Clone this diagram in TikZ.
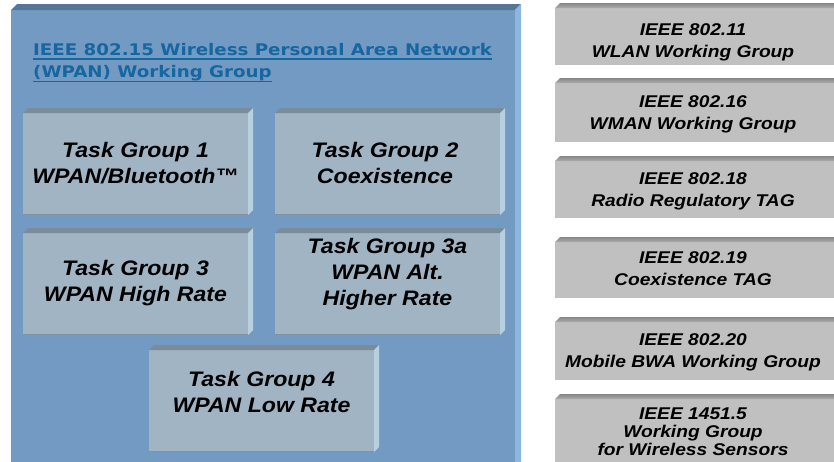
\documentclass[tikz,border=0pt]{standalone}
\usepackage{fontspec}
\newfontfamily\hvfont[FakeStretch=1.1]{Liberation Sans}
\newfontfamily\hvwfont[FakeStretch=1.13]{Liberation Sans}
\newfontfamily\vdfont[FakeStretch=1.14]{DejaVu Sans}
\definecolor{panelface}{RGB}{115,154,195}
\definecolor{paneltop}{RGB}{86,118,152}
\definecolor{panelright}{RGB}{140,181,226}
\definecolor{tgface}{RGB}{160,180,196}
\definecolor{tgtop}{RGB}{122,139,153}
\definecolor{tgright}{RGB}{183,208,224}
\definecolor{tgbottom}{RGB}{128,146,160}
\definecolor{grface}{RGB}{192,192,192}
\definecolor{grtopdark}{RGB}{135,135,135}
\definecolor{grtoplight}{RGB}{172,172,172}
\definecolor{titleblue}{RGB}{22,102,160}
\newcommand\ulbox[1]{\setbox0\hbox{#1}\rlap{\color{titleblue}\rule[-4.6pt]{\wd0}{1.2pt}}\box0}
\newcommand\bevel[4]{%
  \fill[#3] (#1.north west) -- ([shift={(#2,-#2)}]#1.north west) -- ([shift={(#2,-#2)}]#1.north east) -- (#1.north east) -- cycle;
  \fill[#4] (#1.north east) -- ([shift={(#2,-#2)}]#1.north east) -- ([shift={(#2,-#2)}]#1.south east) -- (#1.south east) -- cycle;}
\newcommand\graytop[1]{%
  \shade[top color=grtopdark, bottom color=grtoplight] (#1.north west) -- ([shift={(5,-5)}]#1.north west) -- ([shift={(5,-5)}]#1.north east) -- (#1.north east) -- cycle;}
\tikzset{
  face/.style={anchor=north west, inner sep=0pt, outer sep=0pt, minimum width=225pt, minimum height=102pt},
  tgbox/.style={face, fill=tgface},
  grbox/.style={anchor=north west, inner sep=0pt, outer sep=0pt, minimum width=290pt, fill=grface},
  tgtext/.style={align=center, inner sep=0pt, text=black, font=\hvfont\bfseries\itshape\fontsize{21}{26}\selectfont},
  grtext/.style={align=center, inner sep=0pt, text=black, font=\hvwfont\bfseries\itshape\fontsize{17}{22}\selectfont},
  titletext/.style={anchor=base west, inner sep=0pt, text=titleblue, font=\vdfont\bfseries\fontsize{16}{22}\selectfont}
}
\begin{document}
\begin{tikzpicture}[x=1pt,y=-1pt]
\useasboundingbox (0,0) rectangle (834,461);
\fill[white] (0,0) rectangle (834,461);
\begin{scope}
\clip (0,0) rectangle (834,461);
% main panel
\node[anchor=north west, inner sep=0pt, outer sep=0pt, minimum width=504pt, minimum height=470pt, fill=panelface] (panel) at (11,10) {};
\bevel{panel}{6}{paneltop}{panelright}
\node[titletext] (title1) at (33,55) {\ulbox{IEEE 802.15 Wireless Personal Area Network}};
\node[titletext] (title2) at (33,77.5) {\ulbox{(WPAN) Working Group}};
% task group boxes
\node[tgbox] (tg1) at (23,113) {};
\node[tgbox] (tg2) at (275,113) {};
\node[tgbox] (tg3) at (23,233) {};
\node[tgbox] (tg3a) at (275,233) {};
\node[tgbox] (tg4) at (149,350) {};
\foreach \b in {tg1,tg2,tg3,tg3a,tg4}{
  \bevel{\b}{5}{tgtop}{tgright}
  \draw[tgbottom, line width=1.5pt] ([yshift=0.75pt]\b.south west) -- ([yshift=0.75pt]\b.south east);
}
\node[tgtext] (t1) at (135.5,162.7) {Task Group 1\\WPAN/Bluetooth™};
\node[tgtext] (t2) at (385,162.5) {Task Group 2\\Coexistence};
\node[tgtext] (t3) at (135.5,283) {Task Group 3\\WPAN High Rate};
\node[tgtext] (t3a) at (387.5,273.7) {Task Group 3a\\WPAN Alt.\\Higher Rate};
\node[tgtext] (t4) at (261.5,391.5) {Task Group 4\\WPAN Low Rate};
% right column
\node[grbox, minimum height=57pt] (g1) at (555,8) {};
\node[grbox, minimum height=59pt] (g2) at (555,83) {};
\node[grbox, minimum height=57pt] (g3) at (555,161) {};
\node[grbox, minimum height=56pt] (g4) at (555,242) {};
\node[grbox, minimum height=58pt] (g5) at (555,322) {};
\node[grbox, minimum height=70pt] (g6) at (555,399) {};
\foreach \b in {g1,g2,g3,g4,g5,g6}{\graytop{\b}}
\node[grtext] (r1) at (693,42.2) {IEEE 802.11\\WLAN Working Group};
\node[grtext] (r2) at (693,114.2) {IEEE 802.16\\WMAN Working Group};
\node[grtext] (r3) at (693,191.2) {IEEE 802.18\\Radio Regulatory TAG};
\node[grtext] (r4) at (693,268.5) {IEEE 802.19\\Coexistence TAG};
\node[grtext] (r5) at (693,352.2) {IEEE 802.20\\Mobile BWA Working Group};
\node[grtext, font=\hvwfont\bfseries\itshape\fontsize{17}{18}\selectfont] (r6) at (693,432) {IEEE 1451.5\\Working Group\\for Wireless Sensors};
\end{scope}
\end{tikzpicture}
\end{document}
